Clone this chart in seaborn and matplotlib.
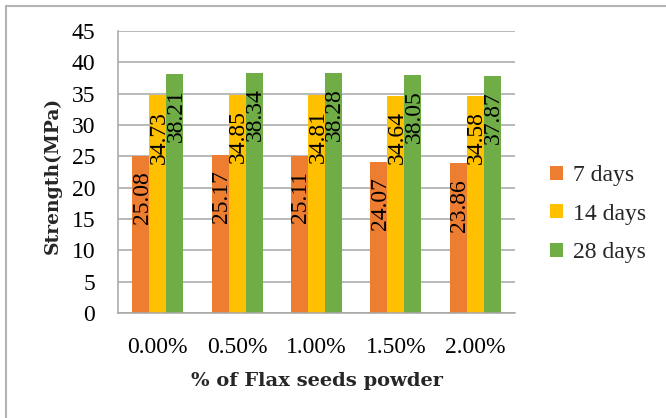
import matplotlib
matplotlib.use("Agg")
import matplotlib.pyplot as plt
from matplotlib.lines import Line2D
from matplotlib.patches import Patch
import seaborn as sns
import pandas as pd

# Compressive strength by flax seed powder content
categories = ["0.00%", "0.50%", "1.00%", "1.50%", "2.00%"]
ages = ["7 days", "14 days", "28 days"]
strength_7 = [25.08, 25.17, 25.11, 24.07, 23.86]
strength_14 = [34.73, 34.85, 34.81, 34.64, 34.58]
strength_28 = [38.21, 38.34, 38.28, 38.05, 37.87]
colors = ["#ED7D31", "#FFC000", "#70AD47"]

series = [strength_7, strength_14, strength_28]
df = pd.DataFrame({
    "pct": [c for _ in ages for c in categories],
    "age": [a for a in ages for _ in categories],
    "val": [v for s in series for v in s],
})

sns.set_style("white")
plt.rcParams["font.family"] = ["Liberation Serif", "DejaVu Serif"]

W, H = 666, 418
fig = plt.figure(figsize=(W / 100, H / 100), dpi=100)
ax = fig.add_axes([118 / W, 1 - 313 / H, (515 - 118) / W, (313 - 31) / H])

sns.barplot(data=df, x="pct", y="val", hue="age", order=categories,
            hue_order=ages, palette=colors, width=0.64, gap=0,
            saturation=1, legend=False, ax=ax, linewidth=0)

grid_c = "#A6A6A6"
ax.set_ylim(0, 45)
ax.set_xlim(-0.5, len(categories) - 0.5)
ax.set_yticks(range(0, 46, 5))
ax.yaxis.grid(True, color=grid_c, linewidth=1.1)
ax.set_axisbelow(True)
for side in ["top", "right"]:
    ax.spines[side].set_visible(False)
for side in ["left", "bottom"]:
    ax.spines[side].set_color(grid_c)
    ax.spines[side].set_linewidth(1.1)

ax.tick_params(axis="y", which="major", length=6.5, width=1.1, color=grid_c,
               pad=10, labelsize=17, labelcolor="black")
ax.set_xticks(range(len(categories)))
ax.set_xticklabels(categories)
ax.tick_params(axis="x", which="major", length=0, pad=17, labelsize=17,
               labelcolor="black")
ax.set_xticks([i - 0.5 for i in range(len(categories) + 1)], minor=True)
ax.tick_params(axis="x", which="minor", length=5, width=1.1, color=grid_c,
               direction="out")
ax.set_xlabel("")
ax.set_ylabel("")

# Value labels inside the top of each bar, rotated
for cont, vals in zip(ax.containers, series):
    for bar, v in zip(cont, vals):
        ax.annotate(f"{v:.2f}",
                    xy=(bar.get_x() + bar.get_width() / 2, v),
                    xytext=(1, -11), textcoords="offset points",
                    rotation=90, ha="center", va="top", fontsize=17,
                    color="black")

fig.text(53 / W, 1 - 175 / H, "Strength(MPa)", rotation=90, ha="center",
         va="center", fontsize=13.5, fontweight="bold", family="DejaVu Serif")
fig.text(317 / W, 1 - 381 / H, "% of Flax seeds powder", ha="center",
         va="center", fontsize=14, fontweight="bold", family="DejaVu Serif")

handles = [Patch(facecolor=c, edgecolor="none") for c in colors]
fig.legend(handles, ages, loc="center left",
           bbox_to_anchor=(550 / W, 1 - 214 / H), frameon=False,
           fontsize=17, handlelength=0.55, handleheight=0.55,
           handletextpad=0.42, labelspacing=0.74, borderpad=0,
           borderaxespad=0)

# Frame lines along the top and left edges
fig.add_artist(Line2D([6 / W, 6 / W], [0, 1 - 6 / H], color="#B4B4B4",
                      linewidth=1.5, transform=fig.transFigure))
fig.add_artist(Line2D([6 / W, 1], [1 - 6 / H, 1 - 6 / H], color="#B4B4B4",
                      linewidth=1.5, transform=fig.transFigure))

fig.savefig("out.png", dpi=100)
